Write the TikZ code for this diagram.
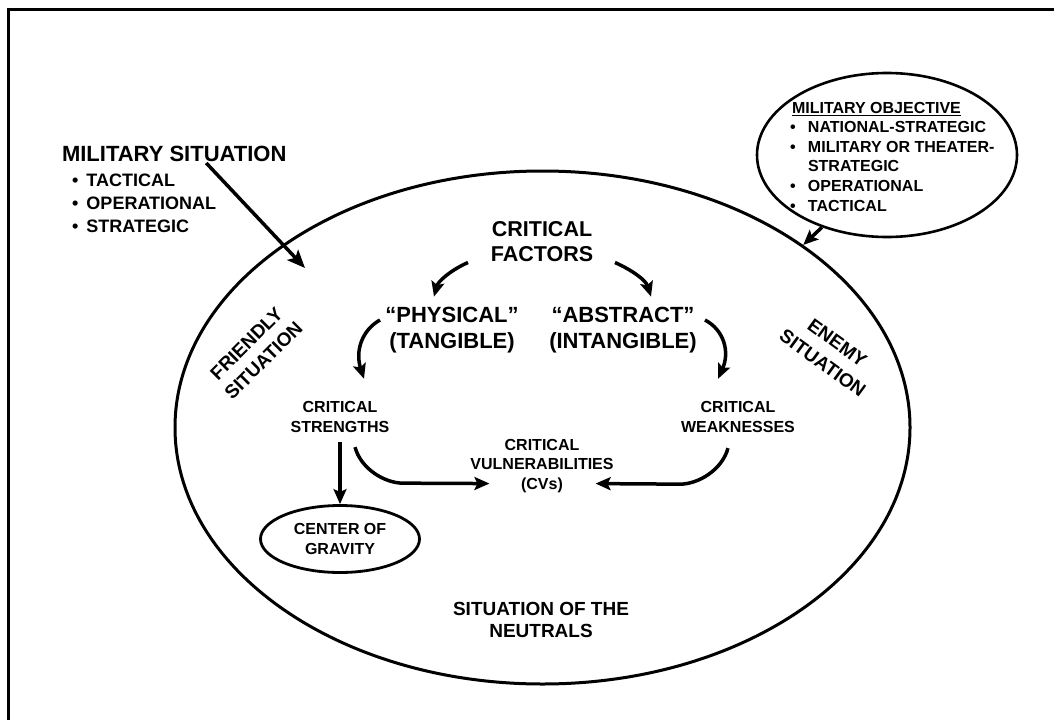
\documentclass[tikz,border=0pt]{standalone}
\usepackage{fontspec}
\setmainfont{Liberation Sans}
\usetikzlibrary{shapes.geometric,arrows.meta}
\newcommand{\bl}[1]{\makebox[#1][l]{•}}
\begin{document}
\begin{tikzpicture}[x=1pt,y=-1pt,
  txt/.style={inner sep=0pt, outer sep=0pt},
  fA/.style={font=\fontsize{22}{26}\selectfont\bfseries},
  fB/.style={font=\fontsize{18}{23}\selectfont\bfseries},
  fC/.style={font=\fontsize{16}{19.6}\selectfont\bfseries},
  fD/.style={font=\fontsize{19}{22}\selectfont\bfseries},
  arr/.style={line width=3.5pt, -{Stealth[length=15pt,width=13pt,inset=3pt]}},
  bigarr/.style={line width=3.5pt, -{Stealth[length=18pt,width=15pt,inset=4pt]}},
  ell/.style={draw, ellipse, inner sep=0pt},
  ]
\useasboundingbox (0,0) rectangle (1054,720);
\fill[white] (0,0) rectangle (1054,720);
% frame
\draw[line width=3pt] (8,720) -- (8,9) -- (1054,9);

% ellipses
\node[ell, line width=3pt, minimum width=735pt, minimum height=513pt] (main) at (542.5,427.5) {};
\node[ell, line width=2.6pt, minimum width=260pt, minimum height=164pt] (moe) at (887,155) {};

% military situation
\node[txt, fA, anchor=base west] (ms) at (62,161) {MILITARY SITUATION};
\node[txt, fB, anchor=base west, align=left] (msl) at (72,232) {\bl{14.5pt}TACTICAL\\\bl{14.5pt}OPERATIONAL\\\bl{14.5pt}STRATEGIC};
\coordinate (fsit) at (305,268);

% military objective
\node[txt, fC, anchor=base west] (mot) at (792,113) {MILITARY OBJECTIVE};
\draw[line width=1.6pt] ([yshift=-2.5pt]mot.base west) -- ([yshift=-2.5pt]mot.base east);
\node[txt, fC, anchor=base west, align=left] (mol) at (790,211) {\bl{18pt}NATIONAL-STRATEGIC\\\bl{18pt}MILITARY OR THEATER-\\\hspace*{18pt}STRATEGIC\\\bl{18pt}OPERATIONAL\\\bl{18pt}TACTICAL};

% inner texts
\node[txt, font=\fontsize{21.5}{25.5}\selectfont\bfseries, anchor=base, align=center] (cf) at (542,261.5) {CRITICAL\\FACTORS};
\node[txt, fA, anchor=base, align=center] (phys) at (452,348) {“PHYSICAL”\\(TANGIBLE)};
\node[txt, fA, anchor=base, align=center] (abs) at (623,348) {“ABSTRACT”\\(INTANGIBLE)};
\node[txt, font=\fontsize{16}{20}\selectfont\bfseries, anchor=base, align=center] (cs) at (340,432) {CRITICAL\\STRENGTHS};
\node[txt, font=\fontsize{16}{20}\selectfont\bfseries, anchor=base, align=center] (cw) at (738,432) {CRITICAL\\WEAKNESSES};
\node[txt, font=\fontsize{16}{19.5}\selectfont\bfseries, anchor=base, align=center] (cv) at (542,489) {CRITICAL\\VULNERABILITIES\\(CVs)};
\node[ell, line width=2.8pt, minimum width=159pt, minimum height=67pt, align=center, font=\fontsize{16}{20}\selectfont\bfseries] (cog) at (340,539) {CENTER OF\\GRAVITY};
\node[txt, fD, anchor=base, align=center] (neu) at (541,637) {SITUATION OF THE\\NEUTRALS};
\node[txt, font=\fontsize{19}{24}\selectfont\bfseries, rotate=45, align=center] (fr) at (255,352) {FRIENDLY\\SITUATION};
\node[txt, font=\fontsize{19}{25}\selectfont\bfseries, rotate=-36, align=center] (en) at (830,353) {ENEMY\\SITUATION};

% connectors
\draw[bigarr] ([xshift=32pt,yshift=-2pt]ms.base) -- (fsit);
\draw[arr] (moe.228) -- (main.35);
\draw[arr] ([xshift=-74pt,yshift=-1pt]cf.base) .. controls +(-18,8) and +(4,-15) .. ([xshift=-18pt,yshift=10pt]phys.north);
\draw[arr] ([xshift=73pt,yshift=-1pt]cf.base) .. controls +(18,8) and +(-5,-16) .. ([xshift=28pt,yshift=10pt]abs.north);
\draw[arr] ([xshift=-72pt,yshift=28pt]phys.base) .. controls +(-18,10) and +(-9,-28) .. ([xshift=24pt,yshift=22pt]cs.north);
\draw[arr] ([xshift=82pt,yshift=28pt]abs.base) .. controls +(19,10) and +(12,-27) .. ([xshift=-20pt,yshift=22pt]cw.north);
\draw[arr] ([yshift=-10pt]cs.south) -- (cog.north);
\draw[arr] ([xshift=15pt,yshift=-15pt]cs.south) .. controls +(6,22) and +(-18,0) .. ++(48,36) -- ([xshift=19pt,yshift=-18pt]cv.west);
\draw[arr] ([xshift=-10pt,yshift=-16pt]cw.south) .. controls +(-6,22) and +(18,0) .. ++(-48,36) -- ([xshift=-18pt,yshift=-18pt]cv.east);
\end{tikzpicture}
\end{document}
